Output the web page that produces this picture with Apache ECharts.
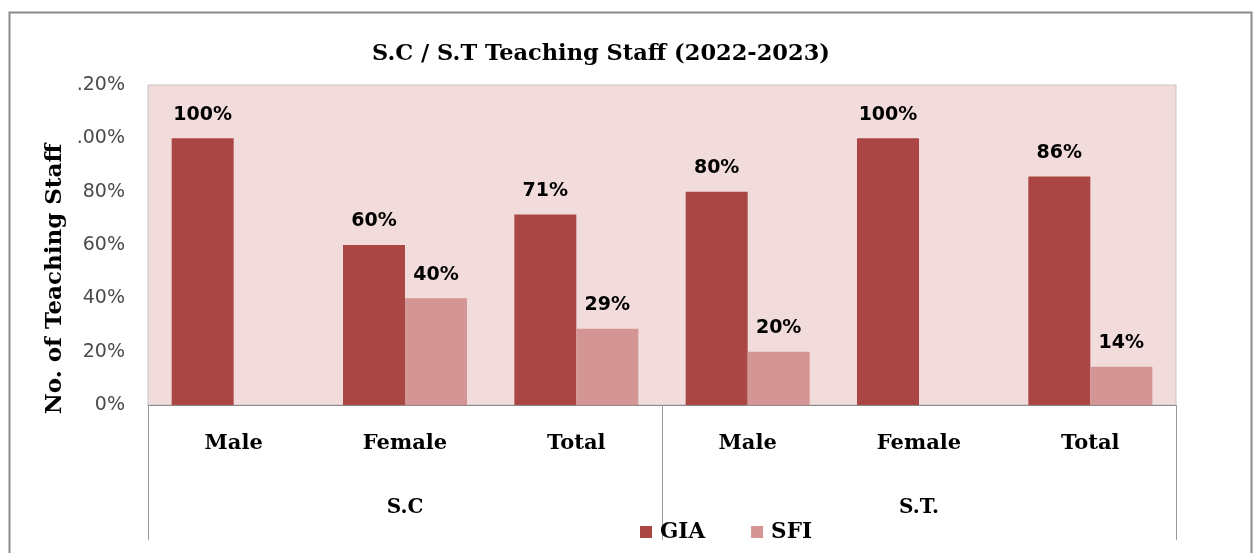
<!DOCTYPE html>
<html>
<head>
<meta charset="utf-8">
<script src="https://cdn.jsdelivr.net/npm/echarts@6/dist/echarts.min.js"></script>
<style>
html,body{margin:0;padding:0;background:#fff;}
#c{width:1253px;height:553px;}
</style>
</head>
<body>
<div id="c"></div>
<script>
const title = 'S.C / S.T Teaching Staff (2022-2023)';
const categories = ['Male', 'Female', 'Total', 'Male', 'Female', 'Total'];
const groups = ['S.C', 'S.T.'];
const gia = [100, 60, 71.4, 80, 100, 85.7];
const sfi = [0, 40, 28.6, 20, 0, 14.3];
const yTickLabels = ['0%', '20%', '40%', '60%', '80%', '.00%', '.20%'];
const yAxisName = 'No. of Teaching Staff';

const chart = echarts.init(document.getElementById('c'));
const serif = '"DejaVu Serif", serif';
const sans = '"DejaVu Sans", sans-serif';
const labelCfg = {
  show: true, position: 'top', distance: 14,
  fontFamily: sans, fontWeight: 'bold', fontSize: 19, color: '#000',
  formatter: p => p.value > 0 ? Math.round(p.value) + '%' : ''
};
chart.setOption({
  backgroundColor: '#fff',
  animation: false,
  title: {
    text: title, left: 596, top: 38, textAlign: 'center',
    textStyle: { fontFamily: serif, fontWeight: 'bold', fontSize: 22.5, color: '#000' }
  },
  legend: {
    data: ['GIA', 'SFI'], left: 640, top: 521, padding: 0, icon: 'rect',
    itemWidth: 12, itemHeight: 12, itemGap: 46,
    textStyle: { fontFamily: serif, fontWeight: 'bold', fontSize: 21.5, color: '#000', padding: [0, 0, 0, 3] }
  },
  grid: {
    left: 148, right: 77, top: 85, bottom: 148, show: true,
    backgroundColor: '#F2DCDB', borderColor: '#c4c4c4', borderWidth: 1
  },
  xAxis: [
    {
      type: 'category', data: categories, position: 'bottom',
      axisLine: { show: true, lineStyle: { color: '#8a8a8a', width: 1 } },
      axisTick: { show: false },
      axisLabel: { margin: 28, fontFamily: serif, fontWeight: 'bold', fontSize: 21, color: '#000', interval: 0 }
    },
    {
      type: 'category', data: groups, position: 'bottom',
      axisLine: { show: false },
      axisTick: { show: true, length: 135, interval: 0, lineStyle: { color: '#999', width: 1 } },
      axisLabel: { margin: 93, fontFamily: serif, fontWeight: 'bold', fontSize: 20, color: '#000', interval: 0 }
    }
  ],
  yAxis: {
    type: 'value', min: 0, max: 120, interval: 20,
    axisLine: { show: false }, axisTick: { show: false },
    splitLine: { show: false },
    axisLabel: {
      margin: 23, fontFamily: sans, fontSize: 19, color: '#4a4a4a',
      formatter: v => yTickLabels[Math.round(v / 20)]
    }
  },
  graphic: [
    {
      type: 'rect', left: 7, top: 10, silent: true,
      shape: { width: 1242, height: 600 },
      style: { fill: 'none', stroke: '#8c8c8c', lineWidth: 2 }
    },
    {
      type: 'text', x: 55, y: 279, rotation: Math.PI / 2, silent: true,
      style: {
        text: yAxisName, fontFamily: serif, fontWeight: 'bold', fontSize: 23,
        fill: '#000', textAlign: 'center', textVerticalAlign: 'middle'
      }
    }
  ],
  series: [
    { name: 'GIA', type: 'bar', data: gia, xAxisIndex: 0, barWidth: 62, barGap: '0%',
      itemStyle: { color: '#AA4643' }, label: labelCfg },
    { name: 'SFI', type: 'bar', data: sfi, xAxisIndex: 0, barWidth: 62, barGap: '0%',
      itemStyle: { color: '#D39694' }, label: labelCfg }
  ]
});
</script>
</body>
</html>
